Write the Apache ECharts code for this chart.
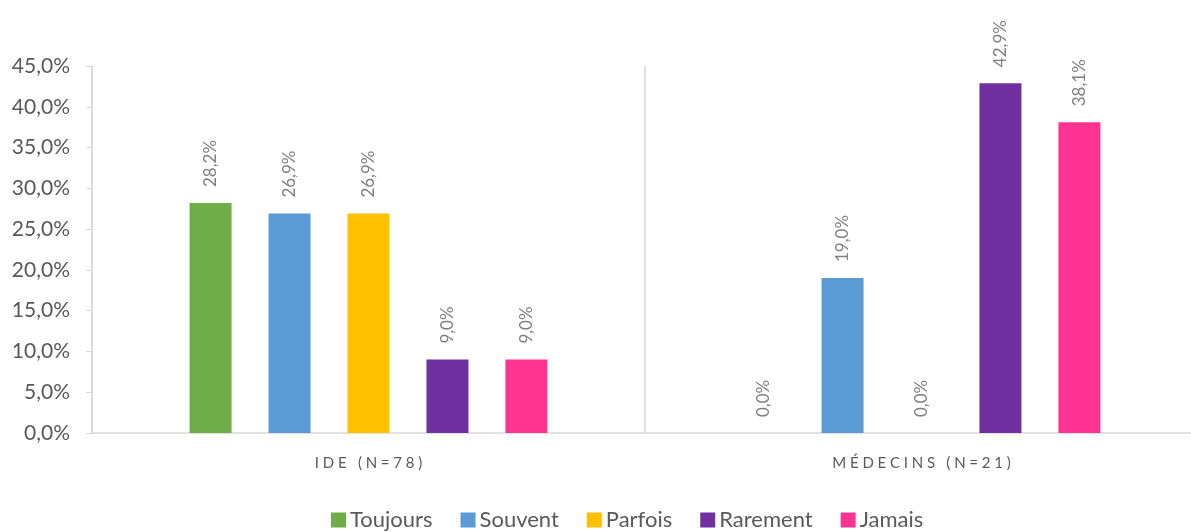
<!DOCTYPE html>
<html>
<head>
<meta charset="utf-8">
<script src="https://cdn.jsdelivr.net/npm/echarts@6/dist/echarts.min.js"></script>
<style>
  html, body { margin: 0; padding: 0; background: #fff; }
  #chart { width: 1191px; height: 532px; }
</style>
</head>
<body>
<div id="chart"></div>
<script>
// données
const groupes = ['IDE (N=78)', 'MÉDECINS (N=21)'];
const seriesNames = ['Toujours', 'Souvent', 'Parfois', 'Rarement', 'Jamais'];
const toujours = [28.2, 0.0];
const souvent = [26.9, 19.0];
const parfois = [26.9, 0.0];
const rarement = [9.0, 42.9];
const jamais = [9.0, 38.1];
const yTicks = { min: 0, max: 45, step: 5 };

const couleurs = ['#70AD47', '#5B9BD5', '#FFC000', '#7030A0', '#FF3391'];
const valeurs = [toujours, souvent, parfois, rarement, jamais];
const police = 'Lato, "Open Sans", sans-serif';

const pct = v => Number(v).toFixed(1).replace('.', ',') + '%';
// espacement des lettres des catégories
const espacer = s => s.split('').join('\u2005');

const chart = echarts.init(document.getElementById('chart'));

const option = {
    animation: false,
    grid: { left: 92, top: 66, width: 1106, height: 367, outerBoundsMode: 'none', containLabel: false },
    legend: {
        data: seriesNames,
        bottom: -4,
        left: 326,
        icon: 'rect',
        itemWidth: 15,
        itemHeight: 15,
        itemGap: 28,
        textStyle: { color: '#595959', fontSize: 22, fontFamily: police, padding: [0, 0, 0, -1] }
    },
    xAxis: {
        type: 'category',
        data: groupes,
        axisLine: { lineStyle: { color: '#d9d9d9', width: 1.5 } },
        axisTick: { show: false },
        splitLine: { show: true, lineStyle: { color: '#d9d9d9', width: 1.5 } },
        axisLabel: {
            color: '#595959',
            fontSize: 15,
            fontFamily: police,
            margin: 23,
            formatter: v => espacer(v)
        }
    },
    yAxis: {
        type: 'value',
        min: yTicks.min,
        max: yTicks.max,
        interval: yTicks.step,
        axisLine: { show: true, lineStyle: { color: '#d9d9d9', width: 1.5 } },
        axisTick: { show: true, length: 6, lineStyle: { color: '#d9d9d9' } },
        splitLine: { show: false },
        axisLabel: {
            color: '#595959',
            fontSize: 21,
            fontFamily: police,
            margin: 22,
            formatter: v => pct(v)
        }
    },
    series: seriesNames.map((name, i) => ({
        name: name,
        type: 'bar',
        data: valeurs[i],
        barWidth: 42,
        barGap: '88%',
        itemStyle: { color: couleurs[i] },
        label: {
            show: true,
            position: 'top',
            rotate: 90,
            align: 'left',
            verticalAlign: 'middle',
            distance: 16,
            color: '#7f7f7f',
            fontSize: 17,
            fontFamily: police,
            formatter: p => pct(p.value)
        }
    }))
};

chart.setOption(option);
</script>
</body>
</html>
